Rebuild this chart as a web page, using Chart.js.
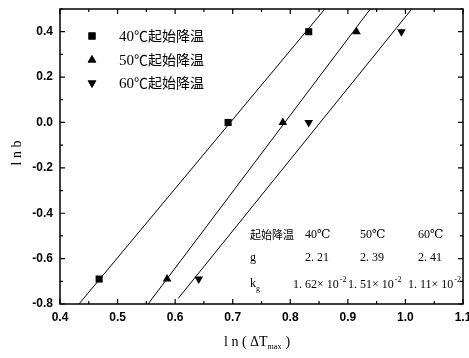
<!DOCTYPE html>
<html lang="zh">
<head>
  <meta charset="UTF-8" />
  <title>ln b vs ln(ΔTmax)</title>
  <script src="https://cdn.jsdelivr.net/npm/chart.js"></script>
  <style>
    body { margin: 0; background: #fff; }
    #wrap { width: 469px; height: 358px; position: relative; }
  </style>
</head>
<body>
<div id="wrap"><canvas id="chart"></canvas></div>
<script>
  // measured points, ln(ΔTmax) vs ln b
  const series = ['40℃起始降温', '50℃起始降温', '60℃起始降温'];
  const lnT40 = [0.468, 0.692, 0.832];
  const lnT50 = [0.586, 0.787, 0.915];
  const lnT60 = [0.641, 0.832, 0.993];
  const lnB = [-0.69, 0.0, 0.40];
  // fitted lines, endpoints
  const fit40x = [0.433, 0.860], fit40y = [-0.8, 0.5];
  const fit50x = [0.553, 0.939], fit50y = [-0.8, 0.5];
  const fit60x = [0.6055, 1.011], fit60y = [-0.775, 0.5];
  // table inside plot
  const tableHead = ['起始降温', '40℃', '50℃', '60℃'];
  const gVals = ['2. 21', '2. 39', '2. 41'];
  const kgVals = ['1. 62', '1. 51', '1. 11'];

  const pts = (xs, ys) => xs.map((x, i) => ({ x, y: ys[i] }));
  const serif = "'Liberation Serif', 'DejaVu Serif', serif";
  const cjk = "'Noto Sans CJK SC', sans-serif";

  const markerStyles = [
    { pointStyle: 'rect', pointRadius: 5, rotation: 0 },
    { pointStyle: 'triangle', pointRadius: 5, rotation: 0 },
    { pointStyle: 'triangle', pointRadius: 5, rotation: 180 }
  ];

  const scatterSet = (label, xs, i) => ({
    label, data: pts(xs, lnB), showLine: false,
    pointStyle: markerStyles[i].pointStyle, pointRadius: markerStyles[i].pointRadius,
    rotation: markerStyles[i].rotation,
    backgroundColor: '#000', borderColor: '#000', borderWidth: 0
  });
  const lineSet = (xs, ys) => ({
    data: pts(xs, ys), showLine: true, pointRadius: 0,
    borderColor: '#000', borderWidth: 1, fill: false
  });

  // frame, inward ticks, legend, table and axis titles
  const decor = {
    id: 'decor',
    afterDraw(chart) {
      const { ctx, chartArea: a, scales: { x, y } } = chart;
      ctx.save();
      ctx.strokeStyle = '#000';
      ctx.lineWidth = 1.5;
      ctx.strokeRect(a.left, a.top, a.right - a.left, a.bottom - a.top);
      ctx.lineWidth = 1.2;
      for (let v = 0.4; v <= 1.1001; v += 0.05) {
        const px = x.getPixelForValue(v);
        const major = Math.abs(Math.round(v * 10) - v * 10) < 1e-6;
        const len = major ? 5 : 3;
        ctx.beginPath();
        ctx.moveTo(px, a.bottom); ctx.lineTo(px, a.bottom - len);
        ctx.moveTo(px, a.top); ctx.lineTo(px, a.top + len);
        ctx.stroke();
      }
      for (let v = -0.8; v <= 0.5001; v += 0.1) {
        const py = y.getPixelForValue(v);
        const major = Math.abs(Math.round(v * 5) - v * 5) < 1e-6;
        const len = major ? 5 : 3;
        ctx.beginPath();
        ctx.moveTo(a.left, py); ctx.lineTo(a.left + len, py);
        ctx.moveTo(a.right, py); ctx.lineTo(a.right - len, py);
        ctx.stroke();
      }

      // legend
      ctx.fillStyle = '#000';
      ctx.textBaseline = 'middle';
      ctx.textAlign = 'left';
      const legY = [36, 60, 83];
      series.forEach((s, i) => {
        const m = markerStyles[i];
        Chart.helpers.drawPoint(ctx, { pointStyle: m.pointStyle, radius: m.pointRadius, rotation: m.rotation }, 92, legY[i]);
        ctx.fill();
        const num = s.slice(0, 2), rest = s.slice(2);
        ctx.font = '15px ' + serif;
        ctx.fillText(num, 119, legY[i] + 1);
        const w = ctx.measureText(num).width;
        ctx.font = '14px ' + cjk;
        ctx.fillText(rest, 119 + w, legY[i]);
      });

      // table
      const colX = [250, 305, 360, 418];
      ctx.font = '11px ' + cjk;
      ctx.fillText(tableHead[0], colX[0], 235);
      ctx.font = '12px ' + serif;
      for (let i = 1; i < 4; i++) ctx.fillText(tableHead[i], colX[i], 235);
      ctx.fillText('g', colX[0], 258);
      gVals.forEach((g, i) => ctx.fillText(g, colX[i + 1], 258));
      ctx.fillText('k', colX[0], 284);
      ctx.font = '8px ' + serif;
      ctx.fillText('g', colX[0] + 6, 289);
      const kX = [293, 348, 408];
      kgVals.forEach((k, i) => {
        ctx.font = '12px ' + serif;
        const t = k + '× 10';
        ctx.fillText(t, kX[i], 285);
        const w = ctx.measureText(t).width;
        ctx.font = '8px ' + serif;
        ctx.fillText('-2', kX[i] + w + 1, 280);
      });

      // y title
      ctx.font = '14px ' + serif;
      ctx.textAlign = 'center';
      ctx.save();
      ctx.translate(17, 153);
      ctx.rotate(-Math.PI / 2);
      ctx.fillText('l n b', 0, 0);
      ctx.restore();

      // x title
      ctx.textAlign = 'left';
      ctx.font = '14px ' + serif;
      let tx = 224;
      const part1 = 'l n ( ΔT';
      ctx.fillText(part1, tx, 342);
      tx += ctx.measureText(part1).width;
      ctx.font = '8px ' + serif;
      ctx.fillText('max', tx, 347);
      tx += ctx.measureText('max').width + 4;
      ctx.font = '14px ' + serif;
      ctx.fillText(')', tx, 342);
      ctx.restore();
    }
  };

  new Chart(document.getElementById('chart'), {
    type: 'scatter',
    data: {
      datasets: [
        lineSet(fit40x, fit40y),
        lineSet(fit50x, fit50y),
        lineSet(fit60x, fit60y),
        scatterSet(series[0], lnT40, 0),
        scatterSet(series[1], lnT50, 1),
        scatterSet(series[2], lnT60, 2)
      ]
    },
    options: {
      responsive: true,
      maintainAspectRatio: false,
      animation: false,
      layout: { padding: { left: 0, top: 9, right: 6, bottom: 0 } },
      plugins: { legend: { display: false }, tooltip: { enabled: false } },
      scales: {
        x: {
          type: 'linear', min: 0.4, max: 1.1,
          grid: { display: false, drawTicks: false },
          border: { display: false },
          afterFit: s => { s.height = 54; s.paddingLeft = 0; s.paddingRight = 0; },
          ticks: {
            stepSize: 0.1, padding: 6, color: '#000',
            font: { family: "'Liberation Sans', Arial, sans-serif", size: 12, weight: 'bold' },
            callback: v => v.toFixed(1)
          }
        },
        y: {
          type: 'linear', min: -0.8, max: 0.5,
          grid: { display: false, drawTicks: false },
          border: { display: false },
          afterFit: s => { s.width = 60; s.paddingTop = 0; s.paddingBottom = 0; },
          ticks: {
            stepSize: 0.2, padding: 7, color: '#000',
            font: { family: "'Liberation Sans', Arial, sans-serif", size: 12, weight: 'bold' },
            callback: v => (Math.abs(v - 0.5) < 1e-6 ? '' : v.toFixed(1))
          }
        }
      }
    },
    plugins: [decor]
  });
</script>
</body>
</html>
